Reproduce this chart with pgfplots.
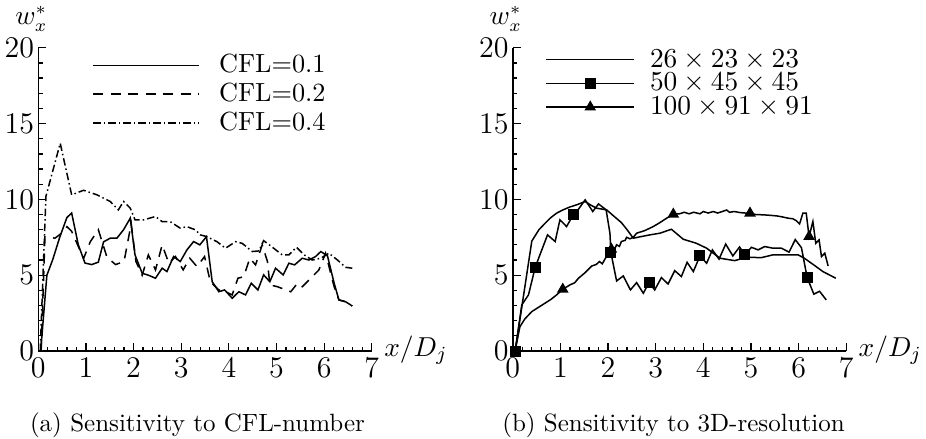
\documentclass[border=0pt]{standalone}
\usepackage{pgfplots}
\pgfplotsset{compat=1.18}

\pgfplotsset{
  panel/.style={
    scale only axis, width=133.4pt, height=121.3pt,
    xmin=0, xmax=7, ymin=0, ymax=20,
    axis lines=left, axis line style={-, line width=0.6pt},
    xtick={0,...,7}, ytick={0,5,...,20},
    minor x tick num=4, minor y tick num=4,
    tick align=inside,
    major tick length=3.2pt, minor tick length=1.7pt,
    tick style={black, line width=0.5pt},
    tick label style={font=\fontsize{11.5}{13}\selectfont},
    xticklabel style={inner ysep=2.8pt},
    yticklabel style={inner xsep=1.5pt},
    clip=false,
    every axis x label/.style={at={(axis description cs:1,0)}, anchor=base west,
      inner sep=0pt, xshift=4.8pt, yshift=-2pt, font=\fontsize{11}{13}\selectfont},
    every axis y label/.style={at={(axis description cs:0,1)}, anchor=base west,
      inner sep=0pt, xshift=-9.4pt, yshift=9.2pt, font=\fontsize{10.5}{12}\selectfont},
    xlabel={$x/D_j$}, ylabel={$w_x^*$},
    legend cell align=left,
    every axis plot/.append style={black, line width=0.6pt},
  }
}

\begin{document}
\begin{tikzpicture}
\useasboundingbox (0,0) rectangle (370.4pt,175.2pt);

% (a) CFL sensitivity
\begin{axis}[panel, at={(15.32pt,34.8pt)}, anchor=south west,
  legend image code/.code={\draw[#1] (0pt,0pt) -- (42.4pt,0pt);},
  legend style={draw=none, fill=none, at={(axis cs:1.13,19.49)}, anchor=north west,
    inner sep=0pt, row sep=4pt, column sep=7.6pt,
    font=\fontsize{10.5}{12}\selectfont,
    nodes={inner sep=0pt, text height=6.8pt, text depth=0.7pt}},
]
\addplot[solid] coordinates {
(0.05,0) (0.18,5.0) (0.30,6.0) (0.45,7.5) (0.60,8.8) (0.70,9.1) (0.84,7.0)
(0.98,5.8) (1.12,5.7) (1.26,5.86) (1.37,7.2) (1.51,7.44) (1.65,7.44) (1.79,8.0)
(1.93,8.76) (2.03,6.34) (2.18,5.13) (2.31,5.0) (2.46,4.8) (2.60,5.46) (2.70,5.24)
(2.84,6.23) (2.98,5.9) (3.12,6.67) (3.26,7.22) (3.39,7.0) (3.53,7.54) (3.65,4.57)
(3.79,3.91) (3.91,4.03) (4.07,3.48) (4.21,3.91) (4.35,3.7) (4.47,4.47) (4.61,4.03)
(4.73,5.02) (4.86,4.57) (4.98,5.46) (5.14,5.02) (5.26,5.79) (5.38,5.68) (5.54,6.12)
(5.68,6.0) (5.82,6.23) (5.93,6.56) (6.07,6.27) (6.21,4.47) (6.31,3.37) (6.45,3.25)
(6.59,2.97)
};
\addplot[dash pattern=on 4pt off 3pt] coordinates {
(0.06,0) (0.14,7.54) (0.35,7.44) (0.50,7.8) (0.60,8.2) (0.70,7.9) (0.95,6.1)
(1.09,7.2) (1.26,8.0) (1.44,6.2) (1.62,5.7) (1.80,5.9) (1.95,8.4) (2.05,5.9)
(2.18,5.0) (2.31,6.34) (2.46,5.35) (2.60,7.0) (2.74,5.79) (2.88,6.23) (3.04,5.35)
(3.18,6.12) (3.33,5.57) (3.49,6.23) (3.61,4.57) (3.79,4.03) (3.93,3.91) (4.07,3.7)
(4.19,4.8) (4.31,4.9) (4.44,6.12) (4.56,5.68) (4.70,7.0) (4.81,5.9) (4.86,4.36)
(5.02,4.24) (5.30,3.91) (5.44,4.47) (5.54,4.24) (5.75,4.9) (5.89,5.35) (6.03,6.45)
(6.21,4.24) (6.31,3.37) (6.45,3.25) (6.59,2.97)
};
\addplot[dash pattern=on 3pt off 1.2pt on 0.6pt off 1.2pt] coordinates {
(0.04,0) (0.16,10.2) (0.46,13.7) (0.70,10.3) (0.95,10.6) (1.23,10.3) (1.51,9.86)
(1.68,9.31) (1.79,9.86) (1.93,9.42) (2.03,8.65) (2.21,8.65) (2.46,8.87) (2.60,8.53)
(2.77,8.53) (2.98,8.1) (3.12,8.2) (3.30,7.99) (3.40,7.66) (3.54,7.54) (3.75,7.21)
(3.93,6.78) (4.14,7.21) (4.28,7.1) (4.49,6.56) (4.63,6.6) (4.73,7.28) (4.94,6.78)
(5.12,6.34) (5.26,6.34) (5.42,6.84) (5.58,6.34) (5.75,6.0) (5.93,6.12) (6.10,6.45)
(6.28,6.0) (6.45,5.52) (6.59,5.46)
};
\legend{CFL=0.1, CFL=0.2, CFL=0.4}
\end{axis}

% (b) 3D-resolution sensitivity
\begin{axis}[panel, at={(205.1pt,34.8pt)}, anchor=south west,
  legend image code/.code={\draw[#1, mark indices={2}] plot coordinates {(0pt,0pt) (17.6pt,0pt) (35.2pt,0pt)};},
  legend style={draw=none, fill=none, at={(axis cs:0.677,19.87)}, anchor=north west,
    inner sep=0pt, row sep=2pt, column sep=6pt,
    font=\fontsize{10.5}{12}\selectfont,
    nodes={inner sep=0pt, text height=6.8pt, text depth=0.7pt}},
]
\addplot[solid, mark=none] coordinates {
(0.05,0) (0.40,7.25) (0.55,8.0) (0.68,8.43) (0.80,8.8) (0.92,9.09) (1.05,9.3)
(1.20,9.5) (1.35,9.65) (1.52,9.86) (1.65,9.6) (1.76,9.42) (1.97,9.31) (2.12,8.9)
(2.28,8.47) (2.40,8.0) (2.53,7.44) (2.70,7.55) (2.88,7.66) (3.09,7.77) (3.33,8.03)
(3.58,7.37) (3.85,7.11) (4.07,6.78) (4.35,6.12) (4.66,5.96) (4.90,6.18) (5.22,6.16)
(5.46,6.34) (5.99,6.34) (6.12,6.12) (6.30,5.72) (6.51,5.24) (6.78,4.8)
};
\addplot[solid, mark=square*, mark size=1.9pt, mark indices={1,4,10,17,23,31,38,47},
  mark options={solid}] coordinates {
(0.05,0) (0.19,3.04) (0.33,3.7) (0.47,5.5) (0.57,6.34) (0.73,7.66) (0.89,7.22)
(0.99,8.65) (1.13,8.21) (1.27,8.98) (1.37,9.31) (1.52,9.97) (1.68,9.2) (1.80,9.7)
(1.96,9.31) (2.04,7.77) (2.06,6.49) (2.18,4.62) (2.32,4.95) (2.47,4.03) (2.60,4.51)
(2.74,3.81) (2.86,4.51) (2.98,4.03) (3.12,4.84) (3.26,4.42) (3.40,5.30) (3.54,4.91)
(3.66,5.85) (3.79,5.24) (3.93,6.27) (4.07,5.79) (4.19,6.67) (4.33,6.06) (4.47,7.05)
(4.62,6.27) (4.76,6.86) (4.87,6.34) (5.01,6.84) (5.15,6.67) (5.29,6.89) (5.46,6.78)
(5.64,6.78) (5.80,6.52) (5.93,7.35) (6.06,6.81) (6.18,4.84) (6.32,3.75) (6.44,3.94)
(6.58,3.37)
};
\addplot[solid, mark=triangle*, mark size=2.1pt, mark indices={8,19,33,49,61},
  mark options={solid}] coordinates {
(0.05,0) (0.15,1.6) (0.25,2.1) (0.40,2.6) (0.60,3.0) (0.80,3.4) (0.92,3.7)
(1.05,4.07) (1.20,4.36) (1.30,4.5) (1.38,4.8) (1.52,5.17) (1.66,5.61) (1.75,5.7)
(1.82,5.9) (1.88,5.75) (1.96,6.2) (2.01,6.45) (2.07,6.71) (2.12,6.6) (2.18,7.0)
(2.24,6.9) (2.28,7.22) (2.36,7.3) (2.39,7.5) (2.46,7.4) (2.53,7.5) (2.60,7.77)
(2.77,7.94) (2.95,8.21) (3.09,8.47) (3.23,8.76) (3.37,9.02) (3.50,9.05) (3.60,9.15)
(3.70,9.05) (3.80,9.15) (3.93,9.05) (4.00,9.2) (4.10,9.1) (4.21,9.2) (4.30,9.1)
(4.40,9.2) (4.49,9.3) (4.55,9.15) (4.65,9.2) (4.77,9.13) (4.88,9.1) (4.98,9.09)
(5.10,9.0) (5.26,8.98) (5.40,8.95) (5.54,8.91) (5.65,8.85) (5.78,8.76) (5.88,8.72)
(5.95,8.6) (6.02,8.38) (6.09,9.09) (6.16,9.09) (6.22,7.55) (6.30,8.54) (6.36,7.11)
(6.43,7.33) (6.48,6.23) (6.55,6.45) (6.62,5.61)
};
\legend{$26\times23\times23$, $50\times45\times45$, $100\times91\times91$}
\end{axis}

\node[anchor=base, font=\fontsize{10}{12}\selectfont] at (79pt,2.8pt) {(a) Sensitivity to CFL-number};
\node[anchor=base, font=\fontsize{10}{12}\selectfont] at (269.4pt,2.8pt) {(b) Sensitivity to 3D-resolution};
\end{tikzpicture}
\end{document}
